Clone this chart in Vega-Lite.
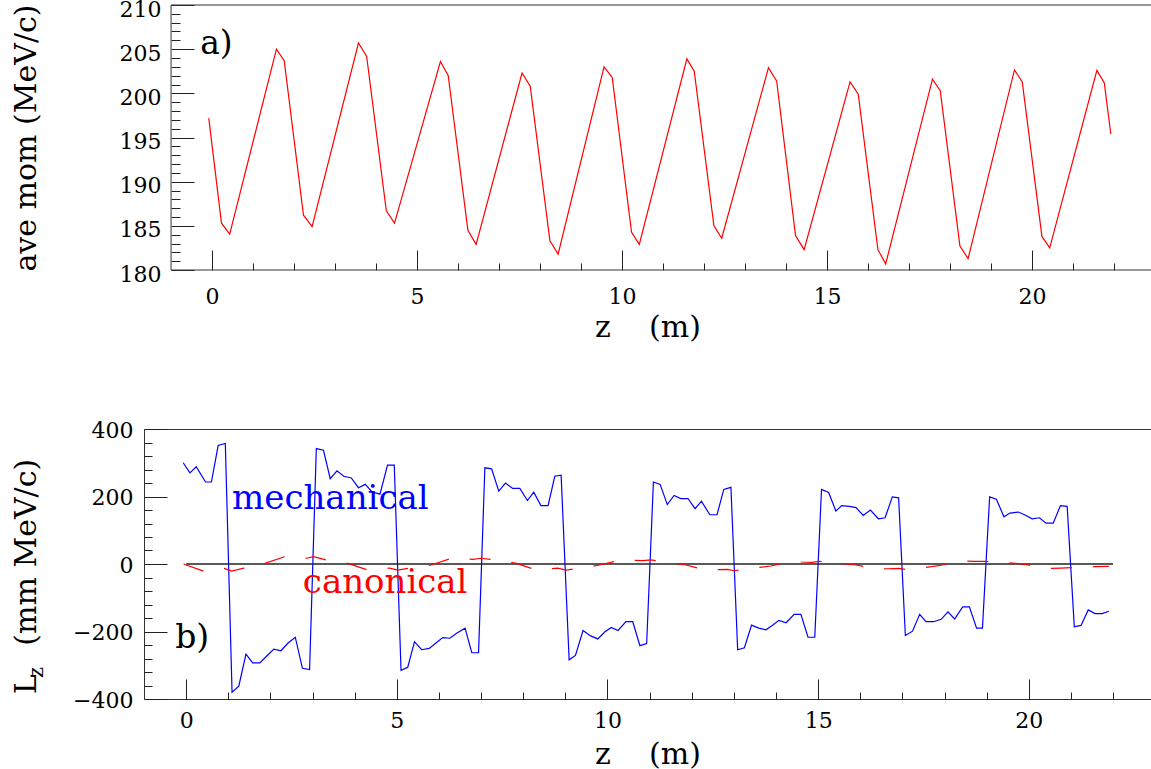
{
  "$schema": "https://vega.github.io/schema/vega-lite/v6.json",
  "padding": {"left": 11, "top": -2, "right": 0, "bottom": 0},
  "config": {
    "view": {"stroke": "#333", "strokeWidth": 1},
    "font": "DejaVu Serif",
    "axis": {"domain": false, "grid": false, "labelFont": "DejaVu Serif", "labelFontSize": 22, "titleFont": "DejaVu Serif", "titleFontSize": 30, "titleFontWeight": "normal", "tickColor": "#222", "tickWidth": 1, "labelColor": "#000", "titleColor": "#000", "labelOverlap": false, "labelFlush": false}
  },
  "datasets": {
    "mom": [
      {"z": -0.08, "p": 197.2}, {"z": 0.23, "p": 185.3}, {"z": 0.43, "p": 184.05}, {"z": 1.57, "p": 205.0}, {"z": 1.76, "p": 203.7},
      {"z": 2.23, "p": 186.2}, {"z": 2.44, "p": 184.9}, {"z": 3.57, "p": 205.7}, {"z": 3.77, "p": 204.2}, {"z": 4.25, "p": 186.7},
      {"z": 4.45, "p": 185.3}, {"z": 5.57, "p": 203.6}, {"z": 5.76, "p": 202.0}, {"z": 6.24, "p": 184.5}, {"z": 6.44, "p": 182.9},
      {"z": 7.56, "p": 202.3}, {"z": 7.76, "p": 200.8}, {"z": 8.24, "p": 183.3}, {"z": 8.44, "p": 181.8}, {"z": 9.56, "p": 203.0},
      {"z": 9.76, "p": 201.8}, {"z": 10.23, "p": 184.3}, {"z": 10.42, "p": 182.9}, {"z": 11.58, "p": 203.9}, {"z": 11.76, "p": 202.5},
      {"z": 12.24, "p": 185.0}, {"z": 12.43, "p": 183.6}, {"z": 13.57, "p": 202.9}, {"z": 13.77, "p": 201.4}, {"z": 14.23, "p": 183.9},
      {"z": 14.44, "p": 182.3}, {"z": 15.56, "p": 201.3}, {"z": 15.76, "p": 199.9}, {"z": 16.24, "p": 182.3}, {"z": 16.43, "p": 180.7},
      {"z": 17.57, "p": 201.6}, {"z": 17.76, "p": 200.3}, {"z": 18.24, "p": 182.7}, {"z": 18.44, "p": 181.3}, {"z": 19.57, "p": 202.65},
      {"z": 19.76, "p": 201.3}, {"z": 20.24, "p": 183.8}, {"z": 20.43, "p": 182.5}, {"z": 21.58, "p": 202.6}, {"z": 21.76, "p": 201.2},
      {"z": 21.92, "p": 195.4}
    ],
    "mech": [
      {"z": -0.07, "L": 300}, {"z": 0.09, "L": 270}, {"z": 0.24, "L": 288}, {"z": 0.46, "L": 243}, {"z": 0.6, "L": 243},
      {"z": 0.76, "L": 351}, {"z": 0.93, "L": 357}, {"z": 1.09, "L": -380}, {"z": 1.25, "L": -362}, {"z": 1.42, "L": -267},
      {"z": 1.58, "L": -293}, {"z": 1.75, "L": -293}, {"z": 1.92, "L": -272}, {"z": 2.08, "L": -252}, {"z": 2.25, "L": -257},
      {"z": 2.42, "L": -234}, {"z": 2.59, "L": -217}, {"z": 2.76, "L": -309}, {"z": 2.93, "L": -313}, {"z": 3.09, "L": 342},
      {"z": 3.26, "L": 337}, {"z": 3.42, "L": 253}, {"z": 3.58, "L": 276}, {"z": 3.74, "L": 260}, {"z": 3.92, "L": 255},
      {"z": 4.09, "L": 226}, {"z": 4.25, "L": 236}, {"z": 4.41, "L": 214}, {"z": 4.6, "L": 207}, {"z": 4.78, "L": 293},
      {"z": 4.94, "L": 293}, {"z": 5.1, "L": -315}, {"z": 5.26, "L": -306}, {"z": 5.42, "L": -230}, {"z": 5.59, "L": -254},
      {"z": 5.77, "L": -250}, {"z": 5.93, "L": -234}, {"z": 6.09, "L": -218}, {"z": 6.26, "L": -220}, {"z": 6.42, "L": -205},
      {"z": 6.62, "L": -190}, {"z": 6.78, "L": -263}, {"z": 6.94, "L": -263}, {"z": 7.09, "L": 285}, {"z": 7.25, "L": 282},
      {"z": 7.42, "L": 216}, {"z": 7.58, "L": 240}, {"z": 7.75, "L": 224}, {"z": 7.92, "L": 224}, {"z": 8.1, "L": 188},
      {"z": 8.25, "L": 213}, {"z": 8.42, "L": 173}, {"z": 8.59, "L": 173}, {"z": 8.75, "L": 260}, {"z": 8.9, "L": 263},
      {"z": 9.09, "L": -284}, {"z": 9.24, "L": -271}, {"z": 9.42, "L": -197}, {"z": 9.6, "L": -213}, {"z": 9.77, "L": -222},
      {"z": 9.94, "L": -201}, {"z": 10.09, "L": -188}, {"z": 10.25, "L": -197}, {"z": 10.44, "L": -171}, {"z": 10.6, "L": -171},
      {"z": 10.77, "L": -242}, {"z": 10.93, "L": -236}, {"z": 11.09, "L": 243}, {"z": 11.25, "L": 236}, {"z": 11.42, "L": 176},
      {"z": 11.58, "L": 203}, {"z": 11.74, "L": 194}, {"z": 11.91, "L": 194}, {"z": 12.08, "L": 164}, {"z": 12.23, "L": 186},
      {"z": 12.43, "L": 146}, {"z": 12.6, "L": 146}, {"z": 12.76, "L": 221}, {"z": 12.93, "L": 227}, {"z": 13.09, "L": -254},
      {"z": 13.25, "L": -248}, {"z": 13.42, "L": -181}, {"z": 13.59, "L": -190}, {"z": 13.76, "L": -195}, {"z": 13.91, "L": -182},
      {"z": 14.07, "L": -167}, {"z": 14.24, "L": -174}, {"z": 14.43, "L": -149}, {"z": 14.59, "L": -149}, {"z": 14.76, "L": -217},
      {"z": 14.92, "L": -217}, {"z": 15.08, "L": 221}, {"z": 15.25, "L": 212}, {"z": 15.42, "L": 157}, {"z": 15.56, "L": 173},
      {"z": 15.74, "L": 171}, {"z": 15.9, "L": 167}, {"z": 16.07, "L": 144}, {"z": 16.24, "L": 160}, {"z": 16.43, "L": 134},
      {"z": 16.59, "L": 137}, {"z": 16.76, "L": 199}, {"z": 16.91, "L": 196}, {"z": 17.07, "L": -212}, {"z": 17.24, "L": -199},
      {"z": 17.41, "L": -149}, {"z": 17.56, "L": -171}, {"z": 17.74, "L": -171}, {"z": 17.92, "L": -164}, {"z": 18.08, "L": -142},
      {"z": 18.24, "L": -163}, {"z": 18.43, "L": -127}, {"z": 18.59, "L": -127}, {"z": 18.76, "L": -190}, {"z": 18.9, "L": -190},
      {"z": 19.07, "L": 199}, {"z": 19.23, "L": 192}, {"z": 19.41, "L": 140}, {"z": 19.55, "L": 151}, {"z": 19.75, "L": 154},
      {"z": 19.91, "L": 145}, {"z": 20.08, "L": 134}, {"z": 20.25, "L": 137}, {"z": 20.41, "L": 121}, {"z": 20.58, "L": 121},
      {"z": 20.75, "L": 173}, {"z": 20.91, "L": 171}, {"z": 21.08, "L": -186}, {"z": 21.24, "L": -182}, {"z": 21.41, "L": -136},
      {"z": 21.57, "L": -147}, {"z": 21.74, "L": -147}, {"z": 21.9, "L": -140}
    ],
    "canon": [
      {"z": -0.06, "L": 0}, {"z": 0.41, "L": -21}, {"z": 0.6, "L": -17}, {"z": 0.75, "L": -13}, {"z": 0.88, "L": -12},
      {"z": 1.08, "L": -21}, {"z": 1.37, "L": -12}, {"z": 1.6, "L": -6}, {"z": 1.87, "L": 2}, {"z": 2.35, "L": 22},
      {"z": 2.6, "L": 19}, {"z": 2.86, "L": 17}, {"z": 3.02, "L": 22}, {"z": 3.33, "L": 12}, {"z": 3.6, "L": 7},
      {"z": 3.84, "L": 2}, {"z": 4.31, "L": -18}, {"z": 4.55, "L": -15}, {"z": 4.83, "L": -12}, {"z": 5.02, "L": -18},
      {"z": 5.31, "L": -12}, {"z": 5.55, "L": -8}, {"z": 5.82, "L": -3}, {"z": 6.3, "L": 17}, {"z": 6.55, "L": 15},
      {"z": 6.8, "L": 14}, {"z": 7.0, "L": 17}, {"z": 7.32, "L": 12}, {"z": 7.6, "L": 7}, {"z": 7.84, "L": 2},
      {"z": 8.31, "L": -18}, {"z": 8.55, "L": -15}, {"z": 8.82, "L": -12}, {"z": 9.02, "L": -18}, {"z": 9.34, "L": -12},
      {"z": 9.58, "L": -8}, {"z": 9.81, "L": -3}, {"z": 10.32, "L": 12}, {"z": 10.6, "L": 11}, {"z": 10.84, "L": 10},
      {"z": 11.03, "L": 12}, {"z": 11.35, "L": 6}, {"z": 11.6, "L": 2}, {"z": 11.86, "L": -3}, {"z": 12.34, "L": -18},
      {"z": 12.6, "L": -17}, {"z": 12.85, "L": -16}, {"z": 13.01, "L": -20}, {"z": 13.36, "L": -14}, {"z": 13.6, "L": -10},
      {"z": 13.88, "L": -6}, {"z": 14.35, "L": 8}, {"z": 14.6, "L": 6}, {"z": 14.86, "L": 5}, {"z": 15.02, "L": 8},
      {"z": 15.42, "L": 4}, {"z": 15.65, "L": 0}, {"z": 15.89, "L": -3}, {"z": 16.41, "L": -15}, {"z": 16.65, "L": -14},
      {"z": 16.92, "L": -13}, {"z": 17.08, "L": -16}, {"z": 17.43, "L": -12}, {"z": 17.7, "L": -8}, {"z": 17.95, "L": -3},
      {"z": 18.46, "L": 9}, {"z": 18.7, "L": 8}, {"z": 18.97, "L": 8}, {"z": 19.21, "L": 6}, {"z": 19.49, "L": 4},
      {"z": 19.75, "L": 1}, {"z": 19.98, "L": -3}, {"z": 20.49, "L": -13}, {"z": 20.75, "L": -12}, {"z": 21.01, "L": -11},
      {"z": 21.18, "L": -10}, {"z": 21.54, "L": -8}, {"z": 21.9, "L": -7}
    ]
  },
  "spacing": 76,
  "vconcat": [
    {
      "width": 1007,
      "height": 265,
      "view": {"stroke": null},
      "resolve": {"axis": {"x": "independent", "y": "independent"}},
      "layer": [
        {
          "data": {"name": "mom"},
          "mark": {"type": "line", "color": "#ff0000", "strokeWidth": 1.2},
          "encoding": {
            "x": {"field": "z", "type": "quantitative", "scale": {"domain": [-1.66, 22.9], "nice": false, "zero": false},
              "axis": {"orient": "bottom", "values": [0, 5, 10, 15, 20], "tickSize": -20, "labelPadding": 36, "title": "z\u00a0\u00a0\u00a0\u00a0(m)", "titlePadding": 5}},
            "y": {"field": "p", "type": "quantitative", "scale": {"domain": [180, 210], "nice": false, "zero": false},
              "axis": {"orient": "left", "offset": -27, "values": [180, 185, 190, 195, 200, 205, 210], "tickSize": -23, "labelPadding": 33, "labelOffset": 4, "title": "ave mom (MeV/c)", "titlePadding": 78}}
          }
        },
        {
          "data": {"name": "mom"},
          "mark": {"type": "line", "strokeOpacity": 0},
          "encoding": {
            "x": {"field": "z", "type": "quantitative", "scale": {"domain": [-1.66, 22.9], "nice": false, "zero": false},
              "axis": {"orient": "bottom", "values": [1, 2, 3, 4, 6, 7, 8, 9, 11, 12, 13, 14, 16, 17, 18, 19, 21, 22], "tickSize": -7, "labels": false, "title": null}},
            "y": {"field": "p", "type": "quantitative", "scale": {"domain": [180, 210], "nice": false, "zero": false},
              "axis": {"orient": "left", "offset": -27, "values": [181, 182, 183, 184, 186, 187, 188, 189, 191, 192, 193, 194, 196, 197, 198, 199, 201, 202, 203, 204, 206, 207, 208, 209], "tickSize": -9, "labels": false, "title": null}}
          }
        },
        {
          "data": {"values": [{"edge": "top"}]},
          "mark": {"type": "rule", "color": "#333", "strokeWidth": 1},
          "encoding": {
            "x": {"datum": -1, "type": "quantitative", "axis": null},
            "x2": {"datum": 22.9},
            "y": {"datum": 210, "type": "quantitative", "axis": null}
          }
        },
        {
          "data": {"values": [{"edge": "bottom"}]},
          "mark": {"type": "rule", "color": "#333", "strokeWidth": 1},
          "encoding": {
            "x": {"datum": -1, "type": "quantitative", "axis": null},
            "x2": {"datum": 22.9},
            "y": {"datum": 180, "type": "quantitative", "axis": null}
          }
        },
        {
          "data": {"values": [{"edge": "left"}]},
          "mark": {"type": "rule", "color": "#333", "strokeWidth": 1},
          "encoding": {
            "x": {"datum": -1, "type": "quantitative", "axis": null},
            "y": {"datum": 180, "type": "quantitative", "axis": null},
            "y2": {"datum": 210}
          }
        },
        {
          "data": {"values": [{"label": "a)"}]},
          "mark": {"type": "text", "align": "left", "baseline": "alphabetic", "fontSize": 33, "font": "DejaVu Serif", "color": "#000"},
          "encoding": {
            "x": {"datum": -0.29, "type": "quantitative", "axis": null},
            "y": {"datum": 204.5, "type": "quantitative", "axis": null},
            "text": {"field": "label"}
          }
        }
      ]
    },
    {
      "width": 1007,
      "height": 270,
      "resolve": {"axis": {"x": "independent", "y": "independent"}},
      "layer": [
        {
          "data": {"name": "mech"},
          "mark": {"type": "line", "color": "#0000ff", "strokeWidth": 1.2},
          "encoding": {
            "x": {"field": "z", "type": "quantitative", "scale": {"domain": [-1, 22.9], "nice": false, "zero": false},
              "axis": {"orient": "bottom", "values": [0, 5, 10, 15, 20], "tickSize": -20, "labelPadding": 31, "title": "z\u00a0\u00a0\u00a0\u00a0(m)", "titlePadding": 8}},
            "y": {"field": "L", "type": "quantitative", "scale": {"domain": [-400, 400], "nice": false, "zero": false},
              "axis": {"orient": "left", "values": [-400, -200, 0, 200, 400], "tickSize": -23, "labelPadding": 34, "labelOffset": 1, "title": "L\u00a0\u00a0\u00a0(mm MeV/c)", "titlePadding": 31, "titleY": 147}}
          }
        },
        {
          "data": {"name": "mech"},
          "mark": {"type": "line", "strokeOpacity": 0},
          "encoding": {
            "x": {"field": "z", "type": "quantitative", "scale": {"domain": [-1, 22.9], "nice": false, "zero": false},
              "axis": {"orient": "bottom", "values": [1, 2, 3, 4, 6, 7, 8, 9, 11, 12, 13, 14, 16, 17, 18, 19, 21, 22], "tickSize": -7, "labels": false, "title": null}},
            "y": {"field": "L", "type": "quantitative", "scale": {"domain": [-400, 400], "nice": false, "zero": false},
              "axis": {"orient": "left", "values": [-360, -320, -280, -240, -160, -120, -80, -40, 40, 80, 120, 160, 240, 280, 320, 360], "tickSize": -8, "labels": false, "title": null}}
          }
        },
        {
          "data": {"values": [{"line": "zero"}]},
          "mark": {"type": "rule", "color": "#222", "strokeWidth": 1.5},
          "encoding": {
            "x": {"datum": 0, "type": "quantitative", "axis": null},
            "x2": {"datum": 22},
            "y": {"datum": 0, "type": "quantitative", "axis": null}
          }
        },
        {
          "data": {"name": "canon"},
          "mark": {"type": "line", "color": "#ff0000", "strokeWidth": 1.2, "strokeDash": [21, 21]},
          "encoding": {
            "x": {"field": "z", "type": "quantitative", "axis": null},
            "y": {"field": "L", "type": "quantitative", "axis": null}
          }
        },
        {
          "data": {"values": [{"label": "mechanical"}]},
          "mark": {"type": "text", "align": "left", "baseline": "alphabetic", "fontSize": 34, "font": "DejaVu Serif", "color": "#0000ff"},
          "encoding": {
            "x": {"datum": 1.09, "type": "quantitative", "axis": null},
            "y": {"datum": 163, "type": "quantitative", "axis": null},
            "text": {"field": "label"}
          }
        },
        {
          "data": {"values": [{"label": "canonical"}]},
          "mark": {"type": "text", "align": "left", "baseline": "alphabetic", "fontSize": 34, "font": "DejaVu Serif", "color": "#ff0000"},
          "encoding": {
            "x": {"datum": 2.77, "type": "quantitative", "axis": null},
            "y": {"datum": -86, "type": "quantitative", "axis": null},
            "text": {"field": "label"}
          }
        },
        {
          "data": {"values": [{"label": "b)"}]},
          "mark": {"type": "text", "align": "left", "baseline": "alphabetic", "fontSize": 33, "font": "DejaVu Serif", "color": "#000"},
          "encoding": {
            "x": {"datum": -0.26, "type": "quantitative", "axis": null},
            "y": {"datum": -249, "type": "quantitative", "axis": null},
            "text": {"field": "label"}
          }
        },
        {
          "data": {"values": [{"label": "z"}]},
          "mark": {"type": "text", "align": "left", "baseline": "alphabetic", "angle": 270, "fontSize": 21, "font": "DejaVu Serif", "color": "#000"},
          "encoding": {
            "x": {"datum": -3.39, "type": "quantitative", "axis": null},
            "y": {"datum": -338, "type": "quantitative", "axis": null},
            "text": {"field": "label"}
          }
        }
      ]
    }
  ]
}
